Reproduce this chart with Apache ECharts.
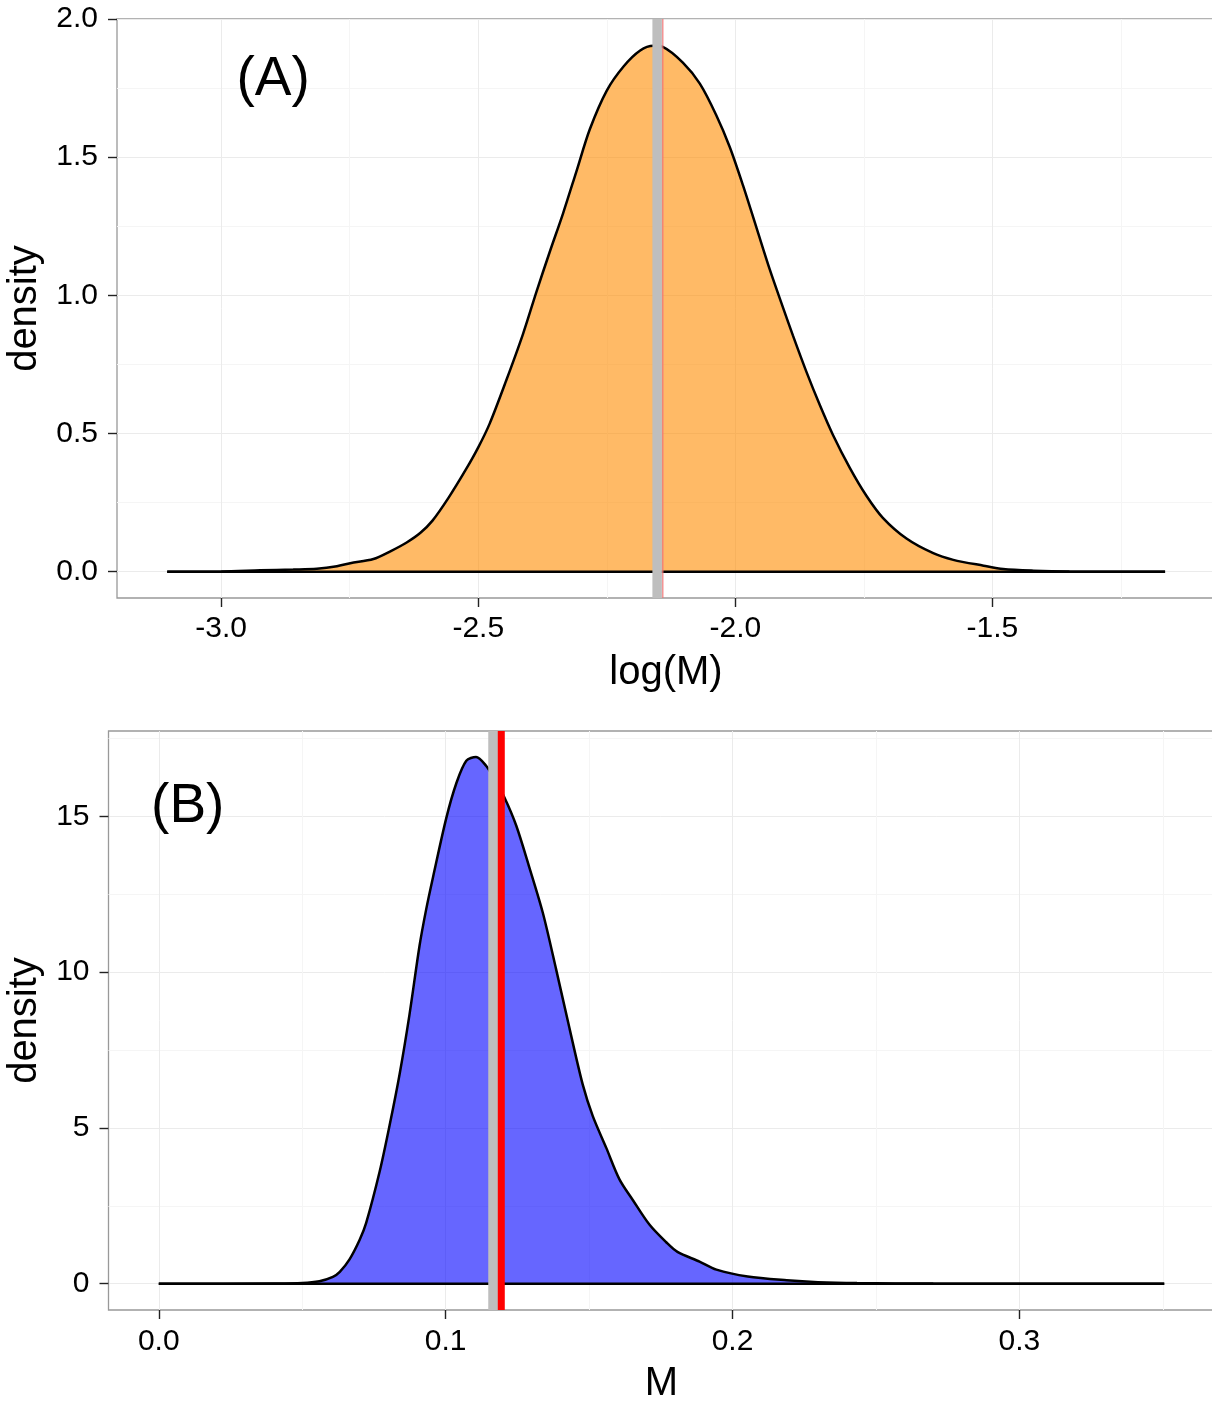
<!DOCTYPE html>
<html><head><meta charset="utf-8">
<script src="https://cdn.jsdelivr.net/npm/echarts@6/dist/echarts.min.js"></script>
<style>html,body{margin:0;padding:0;background:#fff}#c{width:1212px;height:1403px}</style>
</head><body><div id="c"></div>
<script>
// Panel A: density of log(M)
const logM  = [-3.105, -3.0, -2.924, -2.86, -2.814, -2.775, -2.749, -2.704, -2.67, -2.64, -2.613, -2.589, -2.557, -2.524, -2.5, -2.478, -2.446, -2.413, -2.387, -2.361, -2.335, -2.309, -2.283, -2.25, -2.217, -2.185, -2.159, -2.141, -2.102, -2.069, -2.037, -2.011, -1.985, -1.959, -1.933, -1.907, -1.888, -1.862, -1.836, -1.81, -1.777, -1.745, -1.713, -1.667, -1.615, -1.576, -1.517, -1.479, -1.42, -1.35, -1.164];
const densA = [0, 0.001, 0.005, 0.008, 0.011, 0.02, 0.031, 0.046, 0.075, 0.105, 0.14, 0.185, 0.27, 0.37, 0.45, 0.535, 0.69, 0.86, 1.012, 1.157, 1.297, 1.449, 1.601, 1.741, 1.829, 1.886, 1.903, 1.899, 1.842, 1.766, 1.652, 1.538, 1.398, 1.246, 1.094, 0.955, 0.855, 0.725, 0.605, 0.495, 0.375, 0.275, 0.195, 0.12, 0.067, 0.043, 0.022, 0.01, 0.004, 0.001, 0];
// Panel B: density of M
const M     = [0.0, 0.04, 0.05, 0.056, 0.0607, 0.0631, 0.0665, 0.07, 0.0723, 0.077, 0.0805, 0.084, 0.0874, 0.0909, 0.0932, 0.0956, 0.1002, 0.1037, 0.1072, 0.1106, 0.1141, 0.117, 0.1205, 0.1246, 0.1292, 0.1339, 0.1385, 0.1432, 0.1478, 0.1513, 0.156, 0.1606, 0.1653, 0.1711, 0.1769, 0.1808, 0.1885, 0.1944, 0.2053, 0.2189, 0.2298, 0.2434, 0.27, 0.3505];
const densB = [0, 0.005, 0.02, 0.08, 0.22, 0.38, 0.78, 1.4, 1.95, 3.6, 5.1, 6.75, 8.64, 10.85, 12.01, 13.05, 14.94, 16.06, 16.79, 16.91, 16.63, 16.2, 15.61, 14.71, 13.36, 11.9, 10.1, 8.19, 6.39, 5.38, 4.36, 3.35, 2.68, 1.89, 1.33, 1.02, 0.71, 0.45, 0.23, 0.11, 0.05, 0.02, 0.005, 0];
// reference lines
const grayLineA = -2.152, redLineA = -2.141;
const grayLineB = 0.1166, redLineB = 0.1194;
// ticks
const xTicksA = [-3.0, -2.5, -2.0, -1.5];
const xMinorA = [-2.75, -2.25, -1.75, -1.25];
const yTicksA = [0, 0.5, 1.0, 1.5, 2.0];
const yMinorA = [0.25, 0.75, 1.25, 1.75];
const xTicksB = [0, 0.1, 0.2, 0.3];
const xMinorB = [0.05, 0.15, 0.25, 0.35];
const yTicksB = [0, 5, 10, 15];
const yMinorB = [2.5, 7.5, 12.5, 17.5];
const panelLabels = ['(A)', '(B)'];
const labelPosA = [-2.899, 1.779];
const labelPosB = [0.0101, 15.32];

const FONT = "'Liberation Sans', Arial, sans-serif";
function pairs(xs, ys) { return xs.map((x, i) => [x, ys[i]]); }
function mainAxis(gi, min, max, ticks, fmt, name, gap, margin) {
  return {
    type: 'value', gridIndex: gi, min: min, max: max,
    name: name, nameLocation: 'middle', nameGap: gap,
    nameTextStyle: { fontSize: 40, color: '#000', fontFamily: FONT },
    axisLine: { show: false, onZero: false },
    axisTick: { show: true, length: 9, customValues: ticks, lineStyle: { color: '#222', width: 1.4 } },
    axisLabel: { customValues: ticks, formatter: fmt, fontSize: 30, color: '#000', margin: margin, fontFamily: FONT },
    splitLine: { show: true, lineStyle: { color: '#ebebeb', width: 1 } }
  };
}
function minorAxis(gi, min, max, vals) {
  return {
    type: 'value', gridIndex: gi, min: min, max: max,
    axisLine: { show: false, onZero: false },
    axisTick: { show: false, customValues: vals },
    axisLabel: { show: false, customValues: vals },
    splitLine: { show: true, lineStyle: { color: '#f5f5f5', width: 1 } }
  };
}
const f1 = v => v.toFixed(1);
const f0 = v => String(Math.round(v));

const xA = [-3.2027, -1.0669], yA = [-0.095, 2.0];
const xB = [-0.017525, 0.368025], yB = [-0.845, 17.745];

function vlineSeries(xi, yi, v, yr, color, w, z) {
  return { type: 'line', xAxisIndex: xi, yAxisIndex: yi, data: [[v, yr[0]], [v, yr[1]]], z: z, silent: true,
    symbol: 'none', clip: true, lineStyle: { color: color, width: w, type: 'solid', cap: 'butt' } };
}
function labelSeries(xi, yi, pos, text) {
  return { type: 'scatter', xAxisIndex: xi, yAxisIndex: yi, data: [pos], symbolSize: 0, z: 10, silent: true,
    itemStyle: { color: '#000', opacity: 1 },
    label: { show: true, position: [0, 0], align: 'center', verticalAlign: 'middle', formatter: text,
      fontSize: 55, color: '#000', opacity: 1, fontFamily: FONT } };
}
const gridBase = { show: true, borderColor: '#999', borderWidth: 1.3, backgroundColor: 'transparent',
  containLabel: false, outerBoundsMode: 'none' };

const option = {
  animation: false,
  backgroundColor: '#fff',
  textStyle: { fontFamily: FONT },
  grid: [
    Object.assign({ left: 117, top: 19, width: 1098, height: 579 }, gridBase),
    Object.assign({ left: 108.5, top: 731, width: 1106, height: 579 }, gridBase)
  ],
  xAxis: [
    mainAxis(0, xA[0], xA[1], xTicksA, f1, 'log(M)', 55, 16),
    minorAxis(0, xA[0], xA[1], xMinorA),
    mainAxis(1, xB[0], xB[1], xTicksB, f1, 'M', 54, 17),
    minorAxis(1, xB[0], xB[1], xMinorB)
  ],
  yAxis: [
    mainAxis(0, yA[0], yA[1], yTicksA, f1, 'density', 64, 19),
    minorAxis(0, yA[0], yA[1], yMinorA),
    mainAxis(1, yB[0], yB[1], yTicksB, f0, 'density', 55, 19),
    minorAxis(1, yB[0], yB[1], yMinorB)
  ],
  series: [
    { type: 'line', xAxisIndex: 0, yAxisIndex: 0, data: pairs(logM, densA), symbol: 'none', smooth: 0.3,
      lineStyle: { color: '#000', width: 2.5 }, areaStyle: { color: 'rgba(255,140,0,0.6)', opacity: 1 }, z: 2 },
    { type: 'line', xAxisIndex: 0, yAxisIndex: 0, data: [[logM[0], 0], [logM[logM.length - 1], 0]], symbol: 'none',
      lineStyle: { color: '#000', width: 2.5 }, z: 3 },
    vlineSeries(0, 0, grayLineA, yA, '#bebebe', 9.5, 5),
    vlineSeries(0, 0, redLineA, yA, '#f07878', 1.2, 6),
    labelSeries(0, 0, labelPosA, panelLabels[0]),

    { type: 'line', xAxisIndex: 2, yAxisIndex: 2, data: pairs(M, densB), symbol: 'none', smooth: 0.3,
      lineStyle: { color: '#000', width: 2.5 }, areaStyle: { color: 'rgba(0,0,255,0.6)', opacity: 1 }, z: 2 },
    { type: 'line', xAxisIndex: 2, yAxisIndex: 2, data: [[M[0], 0], [M[M.length - 1], 0]], symbol: 'none',
      lineStyle: { color: '#000', width: 2.5 }, z: 3 },
    vlineSeries(2, 2, grayLineB, yB, '#bebebe', 10, 5),
    vlineSeries(2, 2, redLineB, yB, '#ff0000', 7, 6),
    labelSeries(2, 2, labelPosB, panelLabels[1])
  ]
};
echarts.init(document.getElementById('c'), null, { renderer: 'canvas' }).setOption(option);
</script>
</body></html>
